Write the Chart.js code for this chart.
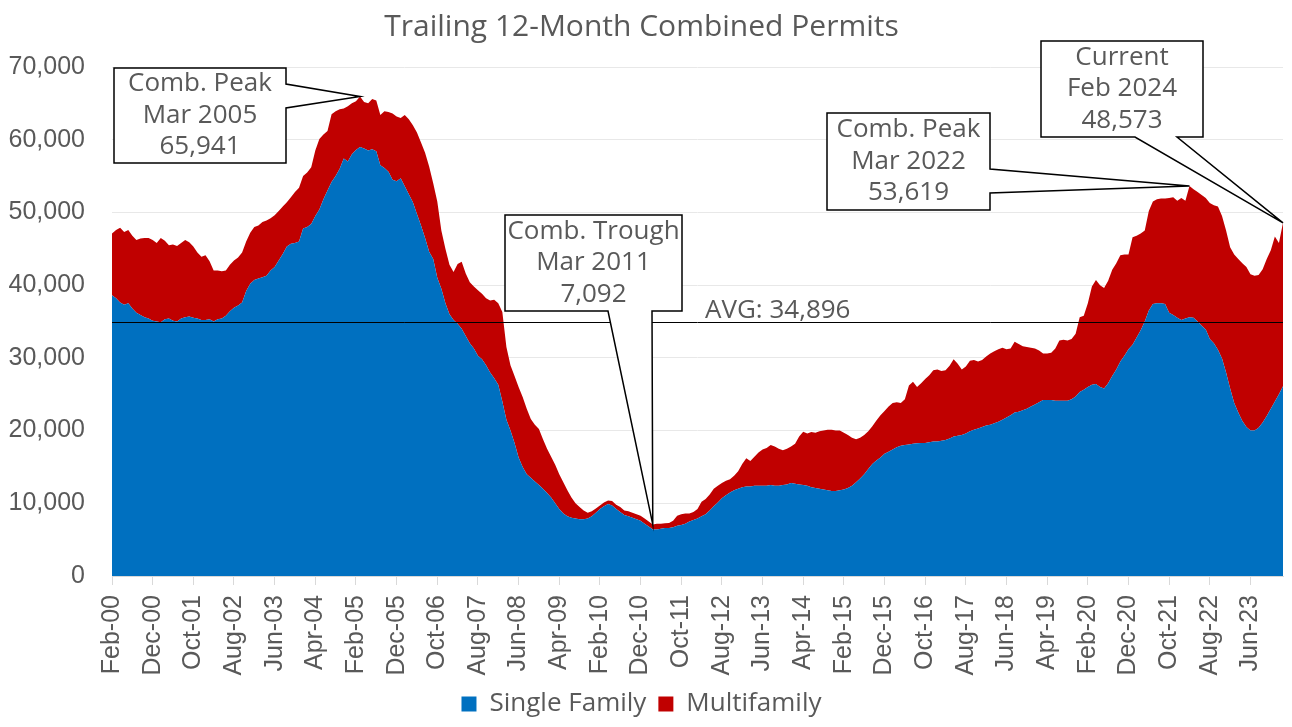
<!DOCTYPE html>
<html>
<head>
<meta charset="utf-8">
<title>Trailing 12-Month Combined Permits</title>
<script src="https://cdn.jsdelivr.net/npm/chart.js@4.4.1/dist/chart.umd.min.js"></script>
<style>
  html, body { margin: 0; padding: 0; background: #fff; }
  #wrap { width: 1292px; height: 727px; }
</style>
</head>
<body>
<div id="wrap"><canvas id="chart" width="1292" height="727"></canvas></div>
<script>
// monthly trailing 12-month permits, Feb-00 .. Feb-24
const singleFamily = [
  38600, 38200, 37600, 37300, 37500, 36800, 36200, 35900, 35600, 35400,
  35100, 35000, 34900, 35300, 35400, 35100, 35000, 35400, 35600, 35700,
  35500, 35400, 35200, 35200, 35300, 35000, 35300, 35400, 35800, 36400,
  36900, 37200, 37600, 39200, 40200, 40700, 40900, 41100, 41300, 42000,
  42500, 43400, 44300, 45300, 45700, 45800, 46000, 47800, 48000, 48400,
  49500, 50400, 51800, 53000, 54200, 55000, 56000, 57400, 57000, 58000,
  58600, 59000, 58800, 58500, 58700, 58400, 56500, 56100, 55600, 54500,
  54300, 54700, 53600, 52500, 51400, 49800, 48200, 46500, 44600, 43600,
  41000, 39500, 37500, 36000, 35200, 34700, 34000, 33000, 32000, 31300,
  30300, 29800, 29000, 28000, 27200, 26300, 24000, 21500, 20000, 18300,
  16300, 15000, 14000, 13500, 13000, 12500, 12000, 11400, 10800, 10000,
  9200, 8600, 8200, 8000, 7900, 7800, 7800, 7900, 8200, 8700,
  9200, 9600, 9900, 9700, 9200, 8800, 8400, 8200, 8000, 7800,
  7600, 7200, 6800, 6400, 6400, 6500, 6600, 6600, 6700, 6900,
  7000, 7200, 7500, 7700, 7900, 8200, 8500, 9000, 9600, 10100,
  10700, 11100, 11500, 11800, 12000, 12200, 12300, 12300, 12400, 12400,
  12400, 12400, 12500, 12400, 12400, 12500, 12600, 12800, 12700, 12600,
  12500, 12400, 12200, 12100, 12000, 11900, 11800, 11700, 11700, 11800,
  11900, 12100, 12400, 12900, 13400, 14000, 14700, 15400, 15900, 16300,
  16800, 17100, 17400, 17700, 17900, 18000, 18100, 18200, 18250, 18300,
  18300, 18400, 18500, 18500, 18600, 18700, 18900, 19200, 19300, 19400,
  19600, 19900, 20100, 20300, 20500, 20700, 20800, 21000, 21200, 21500,
  21800, 22100, 22500, 22600, 22800, 23000, 23300, 23600, 23900, 24200,
  24200, 24200, 24100, 24100, 24100, 24100, 24300, 24700, 25300, 25600,
  26000, 26300, 26400, 26000, 25800, 26500, 27500, 28400, 29500, 30300,
  31200, 31800, 32800, 33800, 35000, 36500, 37400, 37500, 37500, 37400,
  36200, 35900, 35500, 35200, 35400, 35600, 35500, 35000, 34400, 33900,
  32600, 32000, 31100, 29900, 28000, 25800, 23800, 22500, 21300, 20500,
  20000, 20000, 20400, 21100, 22000, 23000, 24000, 25000, 26100
];

const multifamily = [
  8500, 9400, 10300, 10000, 10100, 10000, 10000, 10500, 10900, 11100,
  11100, 10800, 11600, 10800, 10100, 10500, 10400, 10400, 10600, 10200,
  9800, 9100, 8700, 8900, 8000, 7000, 6700, 6500, 6200, 6400,
  6500, 6600, 6900, 6800, 7000, 7300, 7300, 7600, 7600, 7200,
  7100, 6800, 6500, 6100, 6400, 7000, 7400, 7200, 7500, 7800,
  9000, 9700, 8900, 8200, 9300, 8900, 8200, 6900, 7600, 7000,
  6700, 6941, 6400, 6500, 6900, 7000, 6900, 7800, 8200, 9100,
  8900, 8300, 9800, 10300, 10600, 11200, 11400, 11700, 11700, 10400,
  10500, 8000, 7500, 6800, 6600, 8200, 9200, 8600, 8400, 8500,
  9000, 9000, 9200, 9900, 10800, 11200, 12300, 10000, 9000, 9200,
  9700, 9600, 9000, 8100, 7800, 7700, 6800, 6100, 5600, 5300,
  4800, 4300, 3600, 2800, 2100, 1700, 1200, 800, 700, 600,
  500, 500, 500, 600, 600, 700, 600, 700, 700, 700,
  700, 700, 700, 692, 800, 700, 650, 700, 900, 1400,
  1500, 1400, 1100, 1100, 1300, 2000, 2100, 2200, 2400, 2300,
  2100, 2000, 1800, 2000, 2400, 3200, 3900, 3500, 4000, 4600,
  5000, 5200, 5500, 5400, 5100, 4800, 4900, 5000, 5500, 6600,
  7350, 7200, 7600, 7600, 7900, 8100, 8300, 8400, 8300, 8200,
  7800, 7300, 6600, 5900, 5600, 5400, 5200, 5200, 5500, 5800,
  5900, 6200, 6400, 6200, 5900, 6300, 8100, 8500, 7750, 8200,
  8800, 9200, 9800, 9900, 9600, 9600, 10000, 10600, 9900, 9000,
  9200, 9700, 9600, 9200, 9200, 9500, 9800, 9900, 10000, 9900,
  9400, 9200, 9700, 9300, 8800, 8500, 8100, 7700, 7100, 6400,
  6400, 6500, 7200, 8300, 8400, 8300, 8300, 8600, 10300, 10200,
  11500, 13500, 14300, 14000, 13800, 14100, 14600, 14600, 14600, 13900,
  13000, 14800, 14000, 13300, 12500, 13700, 14100, 14300, 14400, 14500,
  15800, 16200, 16100, 16800, 16200, 18019, 17700, 17800, 18000, 18100,
  18700, 19000, 19700, 19600, 19500, 19400, 20400, 21100, 21700, 22000,
  21500, 21300, 21000, 21100, 21600, 21800, 22700, 20800, 22473
];

const avgValue = 34896;

// month labels Feb-00 .. Feb-24, one label shown every 10 months
const monthNames = ['Jan', 'Feb', 'Mar', 'Apr', 'May', 'Jun', 'Jul', 'Aug', 'Sep', 'Oct', 'Nov', 'Dec'];
const categories = singleFamily.map((_, i) => {
    const m = 1 + i;
    return monthNames[m % 12] + '-' + String(2000 + Math.floor(m / 12)).slice(2);
});
const tickEvery = 10;

const callouts = [
    { index: 61, lines: ['Comb. Peak', 'Mar 2005', '65,941'] },
    { index: 133, lines: ['Comb. Trough', 'Mar 2011', '7,092'] },
    { index: 265, lines: ['Comb. Peak', 'Mar 2022', '53,619'] },
    { index: 288, lines: ['Current', 'Feb 2024', '48,573'] }
];

// where the callout boxes sit on the canvas, and where their pointer leaves the box
const calloutBoxes = [
    { x: 114, y: 68, w: 172, h: 95, side: 'right', a: 84, b: 108 },
    { x: 505, y: 215, w: 177, h: 96, side: 'bottom', a: 608, b: 652 },
    { x: 827, y: 113, w: 163, h: 97, side: 'right', a: 169, b: 193 },
    { x: 1041, y: 41, w: 162, h: 96, side: 'bottom', a: 1135, b: 1177 }
];

const textColor = '#595959';
const textFont = '"Open Sans", "Noto Sans", sans-serif';
const axisFont = '"Liberation Sans", Arial, sans-serif';

const overlayPlugin = {
    id: 'overlay',
    afterDatasetsDraw(chart) {
        const { ctx, chartArea, scales: { x, y } } = chart;
        ctx.save();

        // average line
        const ya = Math.round(y.getPixelForValue(avgValue)) + 0.5;
        ctx.strokeStyle = '#000';
        ctx.lineWidth = 1;
        ctx.beginPath();
        ctx.moveTo(chartArea.left, ya);
        ctx.lineTo(chartArea.right, ya);
        ctx.stroke();
        ctx.fillStyle = textColor;
        ctx.font = '26px ' + textFont;
        ctx.textAlign = 'left';
        ctx.textBaseline = 'alphabetic';
        ctx.fillText('AVG: ' + avgValue.toLocaleString('en-US'), 705, ya - 5);

        // callouts
        callouts.forEach((c, k) => {
            const b = calloutBoxes[k];
            const tx = x.getPixelForValue(c.index);
            const ty = y.getPixelForValue(singleFamily[c.index] + multifamily[c.index]);
            ctx.beginPath();
            ctx.moveTo(b.x, b.y);
            ctx.lineTo(b.x + b.w, b.y);
            if (b.side === 'right') {
                ctx.lineTo(b.x + b.w, b.a);
                ctx.lineTo(tx, ty);
                ctx.lineTo(b.x + b.w, b.b);
                ctx.lineTo(b.x + b.w, b.y + b.h);
                ctx.lineTo(b.x, b.y + b.h);
            } else {
                ctx.lineTo(b.x + b.w, b.y + b.h);
                ctx.lineTo(b.b, b.y + b.h);
                ctx.lineTo(tx, ty);
                ctx.lineTo(b.a, b.y + b.h);
                ctx.lineTo(b.x, b.y + b.h);
            }
            ctx.closePath();
            ctx.fillStyle = '#fff';
            ctx.fill();
            ctx.strokeStyle = '#000';
            ctx.lineWidth = 1.5;
            ctx.stroke();

            ctx.fillStyle = textColor;
            ctx.font = '26px ' + textFont;
            ctx.textAlign = 'center';
            ctx.textBaseline = 'middle';
            const cx = b.x + b.w / 2;
            const cy = b.y + b.h / 2;
            c.lines.forEach((line, j) => {
                ctx.fillText(line, cx, cy + (j - 1) * 31.5);
            });
        });

        ctx.restore();
    }
};

const ctx = document.getElementById('chart').getContext('2d');
new Chart(ctx, {
    type: 'line',
    data: {
        labels: categories,
        datasets: [
            {
                label: 'Single Family',
                data: singleFamily,
                fill: 'origin',
                backgroundColor: '#0070C0',
                borderColor: '#0070C0',
                borderWidth: 0,
                pointRadius: 0,
                tension: 0
            },
            {
                label: 'Multifamily',
                data: multifamily,
                fill: '-1',
                backgroundColor: '#C00000',
                borderColor: '#C00000',
                borderWidth: 0,
                pointRadius: 0,
                tension: 0
            }
        ]
    },
    options: {
        responsive: false,
        animation: false,
        events: [],
        layout: { padding: { left: 0, right: 9, top: 0, bottom: 0 } },
        plugins: {
            title: {
                display: true,
                text: 'Trailing 12-Month Combined Permits',
                color: textColor,
                font: { family: textFont, size: 30, weight: 'normal' },
                padding: { top: 9, bottom: 22 }
            },
            legend: {
                position: 'bottom',
                labels: {
                    boxWidth: 15,
                    boxHeight: 15,
                    padding: 12,
                    color: textColor,
                    font: { family: textFont, size: 26 }
                }
            },
            tooltip: { enabled: false }
        },
        scales: {
            x: {
                type: 'category',
                offset: false,
                grid: {
                    drawOnChartArea: false,
                    tickLength: 9,
                    color: c => (c.index % tickEvery === 0 ? '#d9d9d9' : 'rgba(0,0,0,0)')
                },
                border: { display: true, color: '#d9d9d9' },
                ticks: {
                    autoSkip: false,
                    minRotation: 90,
                    maxRotation: 90,
                    padding: 10,
                    color: textColor,
                    font: { family: axisFont, size: 25 },
                    callback: (v, i) => (i % tickEvery === 0 ? categories[i] : '')
                },
                afterFit: s => {
                    s.height = 103;
                    s.paddingLeft = 0;
                    s.paddingRight = 0;
                }
            },
            y: {
                stacked: true,
                min: 0,
                max: 70000,
                ticks: {
                    stepSize: 10000,
                    padding: 27,
                    color: textColor,
                    font: { family: axisFont, size: 25 },
                    callback: v => v.toLocaleString('en-US')
                },
                grid: { color: '#e8e8e8', drawTicks: false },
                border: { display: false },
                afterFit: s => { s.width = 112; }
            }
        }
    },
    plugins: [overlayPlugin]
});
</script>
</body>
</html>
